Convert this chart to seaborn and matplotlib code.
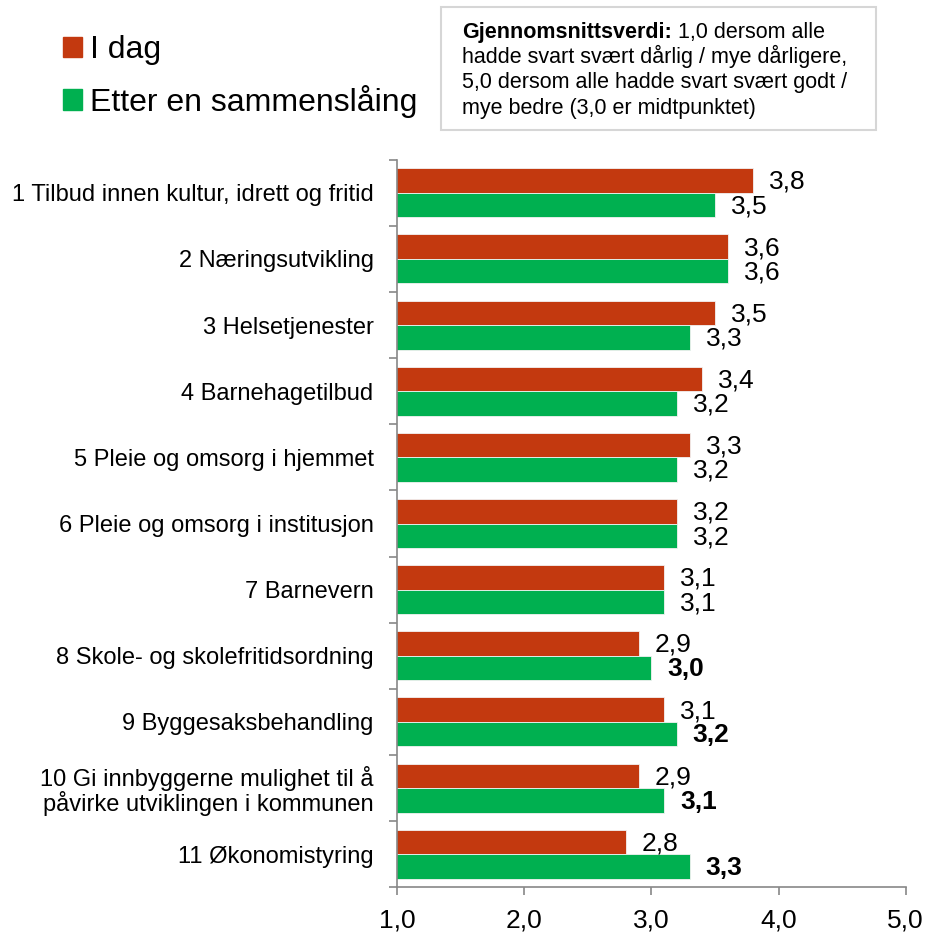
import pandas as pd
import matplotlib.pyplot as plt
import seaborn as sns
from matplotlib.patches import Patch, Rectangle

# Values
categories = [
    "1 Tilbud innen kultur, idrett og fritid",
    "2 Næringsutvikling",
    "3 Helsetjenester",
    "4 Barnehagetilbud",
    "5 Pleie og omsorg i hjemmet",
    "6 Pleie og omsorg i institusjon",
    "7 Barnevern",
    "8 Skole- og skolefritidsordning",
    "9 Byggesaksbehandling",
    "10 Gi innbyggerne mulighet til å\npåvirke utviklingen i kommunen",
    "11 Økonomistyring",
]
i_dag = [3.8, 3.6, 3.5, 3.4, 3.3, 3.2, 3.1, 2.9, 3.1, 2.9, 2.8]
etter = [3.5, 3.6, 3.3, 3.2, 3.2, 3.2, 3.1, 3.0, 3.2, 3.1, 3.3]
bold_etter = [False] * 7 + [True] * 4
series_names = ["I dag", "Etter en sammenslåing"]
colors = ["#C3390F", "#00B050"]
x_ticks = [1.0, 2.0, 3.0, 4.0, 5.0]
note_head = "Gjennomsnittsverdi:"
note_lines = [
    " 1,0 dersom alle",
    "hadde svart svært dårlig / mye dårligere,",
    "5,0 dersom alle hadde svart svært godt /",
    "mye bedre (3,0 er midtpunktet)",
]

df = pd.DataFrame({
    "kategori": categories * 2,
    "verdi": i_dag + etter,
    "serie": [series_names[0]] * len(categories) + [series_names[1]] * len(categories),
})

sns.set_style("white")
plt.rcParams["font.family"] = ["Liberation Sans", "DejaVu Sans"]
plt.rcParams["text.color"] = "black"

fig = plt.figure(figsize=(9.28, 9.34), dpi=100)
ax = fig.add_axes([0.428, 0.050, 0.548, 0.779])

sns.barplot(data=df, y="kategori", x="verdi", hue="serie", orient="h",
            palette=colors, saturation=1, width=0.74, edgecolor="#f2f2f2",
            linewidth=0.6, legend=False, ax=ax)

ax.set_xlim(1, 5)
ax.set_xticks(x_ticks)
ax.set_xticklabels([f"{t:.1f}".replace(".", ",") for t in x_ticks])
ax.set_ylim(len(categories) - 0.5, -0.5)
ax.tick_params(axis="y", which="major", length=0, labelsize=17, pad=17,
               labelcolor="black")
for lab in ax.get_yticklabels():
    lab.set_linespacing(1.0)
ax.set_yticks([i + 0.5 for i in range(-1, len(categories))], minor=True)
ax.tick_params(axis="y", which="minor", left=True, length=6, width=1.2,
               color="#888888", direction="out")
ax.tick_params(axis="x", bottom=True, length=6, width=1.2, color="#888888",
               direction="out", pad=9, labelsize=19, labelcolor="black")
ax.set_xlabel("")
ax.set_ylabel("")

for side in ["top", "right"]:
    ax.spines[side].set_visible(False)
for side in ["left", "bottom"]:
    ax.spines[side].set_color("#888888")
    ax.spines[side].set_linewidth(1.2)

# Data labels
for k, cont in enumerate(ax.containers):
    for i, bar in enumerate(cont):
        val = bar.get_width()
        bold = k == 1 and bold_etter[i]
        ax.text(val + 0.125, bar.get_y() + bar.get_height() / 2 + 0.02,
                f"{val:.1f}".replace(".", ","), va="center", ha="left",
                fontsize=19, fontweight="bold" if bold else "normal",
                clip_on=False)

# Legend
handles = [Patch(facecolor=c, edgecolor=c) for c in colors]
fig.legend(handles, series_names, loc="upper left", bbox_to_anchor=(0.068, 0.962),
           frameon=False, fontsize=23, handlelength=0.6, handleheight=0.6,
           handletextpad=0.25, labelspacing=0.6, borderpad=0, borderaxespad=0)

# Explanation box
fig.patches.append(Rectangle((0.475, 0.861), 0.469, 0.132, transform=fig.transFigure,
                             facecolor="white", edgecolor="#d6d6d6", linewidth=1.5))
x0 = 462 / 928
head = fig.text(x0, 1 - 38 / 934, note_head, fontsize=15.5,
                fontweight="bold", va="baseline", ha="left")
renderer = fig.canvas.get_renderer()
head_right = head.get_window_extent(renderer).x1 / fig.bbox.width
fig.text(head_right, 1 - 38 / 934, note_lines[0], fontsize=15.5,
         va="baseline", ha="left")
for j, line in enumerate(note_lines[1:]):
    fig.text(x0, 1 - (63 + 25.3 * j) / 934, line, fontsize=15.5,
             va="baseline", ha="left")

fig.savefig("out.png", dpi=100)
